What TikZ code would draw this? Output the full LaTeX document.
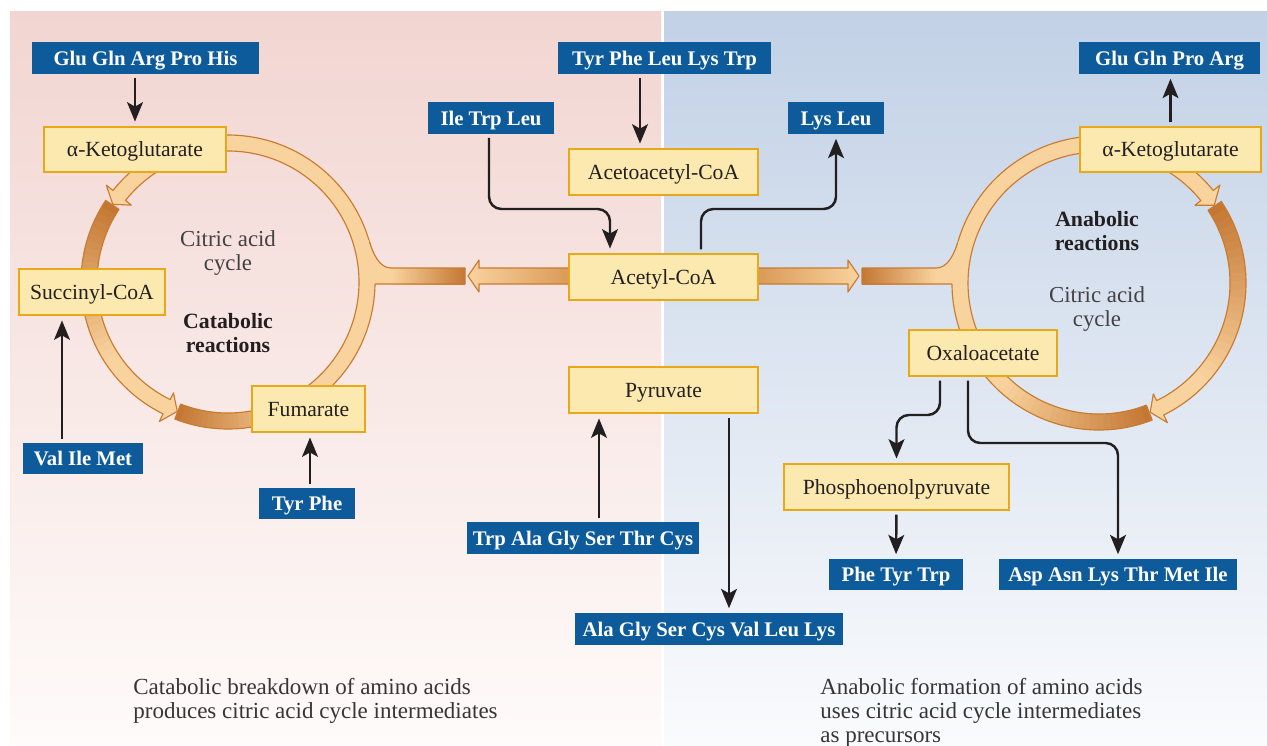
\documentclass[tikz,border=0pt]{standalone}
\usepackage{fontspec}
\setmainfont{Liberation Serif}
\usetikzlibrary{arrows.meta,calc}
\definecolor{bgpink}{HTML}{F2D5D1}
\definecolor{bgpinkb}{HTML}{FEFBFA}
\definecolor{bgblue}{HTML}{C2D1E6}
\definecolor{bgblueb}{HTML}{FAFBFD}
\definecolor{lab}{HTML}{0D5B9B}
\definecolor{yfill}{HTML}{FCE9AF}
\definecolor{yedge}{HTML}{E7A81A}
\definecolor{ringL}{HTML}{F9D39E}
\definecolor{ringM}{HTML}{DA9A58}
\definecolor{ringD}{HTML}{C47733}
\definecolor{ringE}{HTML}{C97B30}
\definecolor{ink}{HTML}{231F20}

\tikzset{
 ybox/.style={draw=yedge, fill=yfill, line width=1.2pt, inner sep=0pt, text height=8pt, text depth=0pt, font=\fontsize{12.3}{14}\selectfont, text=ink},
 bbox/.style={fill=lab, inner sep=0pt, text height=8pt, text depth=0pt, font=\fontsize{11.8}{14}\selectfont\bfseries, text=white},
 blk/.style={draw=ink, line width=1.4pt, -{Stealth[length=11pt,width=9pt,inset=2.5pt]}, shorten <=2pt, shorten >=2.5pt, rounded corners=7pt},
 ringline/.style={draw=ringE, line width=0.65pt, line join=round},
 txt/.style={align=center, inner sep=0pt, text=ink!85, font=\fontsize{13}{13.8}\selectfont},
 txtb/.style={align=center, inner sep=0pt, text=ink, font=\fontsize{12.4}{13.8}\selectfont\bfseries},
 captxt/.style={align=left, inner sep=0pt, text=ink!90, font=\fontsize{13.1}{13.6}\selectfont},
}

% box from pixel corners: name, x1, y1, x2, y2, style, text
\newcommand\bx[7]{%
 \pgfmathsetmacro\bxCX{(#2+#4)/2}\pgfmathsetmacro\bxCY{-(#3+#5)/2}%
 \pgfmathsetmacro\bxW{(#4-#2)*0.02}\pgfmathsetmacro\bxH{(#5-#3)*0.02}%
 \node[#6, minimum width=\bxW cm, minimum height=\bxH cm] (#1) at (\bxCX,\bxCY) {#7};}

% ring segment with arrowhead: start angle, base angle, tip angle
\newcommand\segA[3]{(#1:131) -- (#1:147) arc[start angle=#1, end angle=#2, radius=147] -- (#2:155.5) -- (#3:139) -- (#2:123.5) -- (#2:131) arc[start angle=#2, end angle=#1, radius=131] -- cycle}
% plain ring segment
\newcommand\segB[2]{(#1:131) -- (#1:147) arc[start angle=#1, end angle=#2, radius=147] -- (#2:131) arc[start angle=#2, end angle=#1, radius=131] -- cycle}
% gradient from dark (angle 1) to light (angle 2)
\newcommand\gradarc[2]{%
 \foreach \k in {0,...,23}{%
   \pgfmathsetmacro\ta{#1+(#2-#1)*\k/24}%
   \pgfmathsetmacro\tb{#1+(#2-#1)*(\k+1.3)/24}%
   \pgfmathtruncatemacro\pc{100-100*\k/23}%
   \fill[ringD!\pc!ringL] (\ta:131) -- (\ta:147) arc[start angle=\ta, end angle=\tb, radius=147] -- (\tb:131) arc[start angle=\tb, end angle=\ta, radius=131] -- cycle;
 }}

\begin{document}
\begin{tikzpicture}[x=0.02cm,y=0.02cm]
\useasboundingbox (0,0) rectangle (1267,-745);
\fill[white] (0,0) rectangle (1267,-745);
% panels
\shade[top color=bgpink, bottom color=bgpinkb] (10,-11) rectangle (661,-745);
\shade[top color=bgblue, bottom color=bgblueb] (664,-11) rectangle (1267,-745);

% ---------- left cycle ----------
\begin{scope}[shift={(228,-282)}]
 \fill[ringL] \segB{248.8}{301};
 \gradarc{248.8}{300}
 \draw[ringline] \segB{248.8}{301};
 \fill[ringL] \segA{146.3}{243.8}{248.6};
 \gradarc{146.3}{215}
 \draw[ringline] \segA{146.3}{243.8}{248.6};
 \fill[ringL] \segA{-60}{141.5}{146};
 \draw[ringline] \segA{-60}{141.5}{146};
\end{scope}
% left junction bar
\fill[ringL] (362,-233) -- (369.3,-241.4) .. controls (373,-253) and (379,-268) .. (391,-268) -- (391.5,-268) -- (391.5,-284) -- (362,-284) -- cycle;
\shade[left color=ringL, right color=ringD] (391,-268) rectangle (465,-284);
\draw[ringline] (369.3,-241.4) .. controls (373,-253) and (379,-268) .. (391,-268) -- (465,-268) -- (465,-284) -- (375,-284);

% ---------- right cycle ----------
\begin{scope}[shift={(1099,-283)}]
 \fill[ringL] \segB{-68.8}{-151};
 \gradarc{-68.8}{-135}
 \draw[ringline] \segB{-68.8}{-151};
 \fill[ringL] \segA{33.7}{-63.9}{-68.4};
 \gradarc{33.7}{-45}
 \draw[ringline] \segA{33.7}{-63.9}{-68.4};
 \fill[ringL] \segA{211}{39}{34};
 \draw[ringline] \segA{211}{39}{34};
\end{scope}
% right junction bar
\fill[ringL] (966,-233) -- (957.7,-242.5) .. controls (954,-254) and (948,-268) .. (936,-268) -- (935.5,-268) -- (935.5,-284) -- (966,-284) -- cycle;
\shade[left color=ringD, right color=ringL] (862,-268) rectangle (936,-284);
\draw[ringline] (957.7,-242.5) .. controls (954,-254) and (948,-268) .. (936,-268) -- (862,-268) -- (862,-284) -- (952,-284);

% ---------- wide arrows from acetyl-CoA ----------
\shade[left color=ringL, right color=ringM] (569,-268) -- (479,-268) -- (479,-260) -- (468,-276) -- (479,-292) -- (479,-284) -- (569,-284) -- cycle;
\draw[ringline] (569,-268) -- (479,-268) -- (479,-260) -- (468,-276) -- (479,-292) -- (479,-284) -- (569,-284);
\shade[left color=ringM, right color=ringL] (758,-268) -- (848,-268) -- (848,-260) -- (859,-276) -- (848,-292) -- (848,-284) -- (758,-284) -- cycle;
\draw[ringline] (758,-268) -- (848,-268) -- (848,-260) -- (859,-276) -- (848,-292) -- (848,-284) -- (758,-284);

% ---------- yellow boxes ----------
\bx{akgL}{44}{127}{226}{172}{ybox}{α-Ketoglutarate}
\bx{succ}{19}{269}{165}{315}{ybox}{Succinyl-CoA}
\bx{fum}{252}{386}{365}{432}{ybox}{Fumarate}
\bx{acac}{569}{149}{758}{195}{ybox}{Acetoacetyl-CoA}
\bx{acet}{569}{254}{758}{300}{ybox}{Acetyl-CoA}
\bx{pyr}{569}{367}{758}{413}{ybox}{Pyruvate}
\bx{akgR}{1080}{127}{1261}{172}{ybox}{α-Ketoglutarate}
\bx{oxa}{909}{330}{1057}{376}{ybox}{Oxaloacetate}
\bx{pep}{784}{464}{1009}{510}{ybox}{Phosphoenolpyruvate}

% ---------- blue labels ----------
\bx{glu1}{32}{42}{259}{74}{bbox}{Glu Gln Arg Pro His}
\bx{tyr5}{558}{42}{771}{74}{bbox}{Tyr Phe Leu Lys Trp}
\bx{glu2}{1079}{42}{1260}{74}{bbox}{Glu Gln Pro Arg}
\bx{ile}{428}{102}{554}{134}{bbox}{Ile Trp Leu}
\bx{lys}{788}{102}{884}{134}{bbox}{Lys Leu}
\bx{val}{23}{443}{143}{474}{bbox}{Val Ile Met}
\bx{tyr2}{259}{488}{355}{519}{bbox}{Tyr Phe}
\bx{trp6}{467}{522}{699}{554}{bbox}{Trp Ala Gly Ser Thr Cys}
\bx{ala7}{575}{613}{843}{645}{bbox}{Ala Gly Ser Cys Val Leu Lys}
\bx{phe3}{829}{559}{963}{590}{bbox}{Phe Tyr Trp}
\bx{asp6}{999}{559}{1237}{590}{bbox}{Asp Asn Lys Thr Met Ile}

% ---------- helper coordinates ----------
\coordinate (k209) at (0,-209);
\coordinate (k415) at (0,-415);
\coordinate (k443) at (0,-443);
\coordinate (v2) at ($(val.north)+(-21,0)$);
\coordinate (t3) at ($(tyr2.north)+(3,0)$);
\coordinate (t4) at ($(tyr5.south)+(-24.5,0)$);
\coordinate (j1) at ($(acet.north)+(-53.5,0)$);
\coordinate (j2) at ($(acet.north)+(37.5,0)$);
\coordinate (t7) at ($(trp6.north)+(16,0)$);
\coordinate (p8) at ($(pyr.south)+(65.5,0)$);
\coordinate (o1) at ($(oxa.south)+(-43,0)$);
\coordinate (o2) at ($(oxa.south)+(-15,0)$);

% ---------- black arrows ----------
\draw[blk] (glu1.south -| akgL.north) -- (akgL.north);
\draw[blk] (v2) -- (v2 |- succ.south);
\draw[blk] (t3) -- (t3 |- fum.south);
\draw[blk] (t4) -- (t4 |- acac.north);
\draw[blk] ([xshift=-0.04cm]ile.south) |- (j1 |- k209) -- (j1);
\draw[blk] (j2) |- (lys.south |- k209) -- (lys.south);
\draw[blk] (t7) -- (t7 |- pyr.south);
\draw[blk] (p8) -- (p8 |- ala7.north);
\draw[blk] (akgR.north) -- (akgR.north |- glu2.south);
\draw[blk] (o1) |- (pep.north |- k415) -- (pep.north);
\draw[blk] (o2) |- (asp6.north |- k443) -- (asp6.north);
\draw[blk] (pep.south) -- (phe3.north);

% ---------- texts ----------
\node[txt] (cit1) at (228,-253) {Citric acid\\cycle};
\node[txtb] (cat) at (228,-333) {Catabolic\\reactions};
\node[txtb] (ana) at (1097,-231) {Anabolic\\reactions};
\node[txt] (cit2) at (1097,-309) {Citric acid\\cycle};
\node[captxt, anchor=north west] (capL) at (133,-678) {Catabolic breakdown of amino acids\\produces citric acid cycle intermediates};
\node[captxt, anchor=north west] (capR) at (820,-678) {Anabolic formation of amino acids\\uses citric acid cycle intermediates\\as precursors};
\end{tikzpicture}
\end{document}
